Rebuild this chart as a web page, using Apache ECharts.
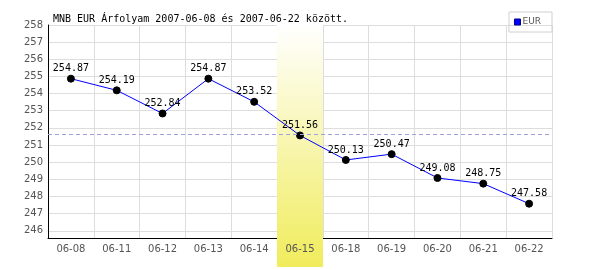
<!DOCTYPE html>
<html><head><meta charset="utf-8">
<script src="https://cdn.jsdelivr.net/npm/echarts@6/dist/echarts.min.js"></script>
<style>html,body{margin:0;padding:0;background:#fff}#c{width:600px;height:270px}</style>
</head><body><div id="c"></div>
<script>
const titleText = 'MNB EUR Árfolyam 2007-06-08 és 2007-06-22 között.';
const categories = ['06-08','06-11','06-12','06-13','06-14','06-15','06-18','06-19','06-20','06-21','06-22'];
const eurValues = [254.87,254.19,252.84,254.87,253.52,251.56,250.13,250.47,249.08,248.75,247.58];
const highlightCategory = '06-15';
const yMin = 245.58, yMax = 258;

const chart = echarts.init(document.getElementById('c'), null, {renderer:'canvas'});
const mono = 'DejaVu Sans Mono';
chart.setOption({
  animation:false,
  backgroundColor:'#fff',
  title:{text:titleText,left:48,top:9,textStyle:{fontFamily:mono,fontSize:10,fontWeight:'normal',color:'#000'}},
  legend:{data:[{name:'EUR',itemStyle:{color:'#0000ff',borderColor:'#000080',borderWidth:1}}],
    right:48,top:12,orient:'horizontal',icon:'rect',itemWidth:6,itemHeight:6,
    padding:[5,11,5,5],borderColor:'#d0d0d0',borderWidth:1,
    textStyle:{fontFamily:'DejaVu Sans',fontSize:9,lineHeight:10,color:'#555',padding:[0,0,0,-3]}},
  grid:{left:48,right:48,top:25,bottom:32,containLabel:false},
  xAxis:[{type:'category',data:categories,boundaryGap:true,z:0,
    axisLine:{lineStyle:{color:'#000',width:1}},axisTick:{show:false},
    axisLabel:{show:false},
    splitLine:{show:true,interval:0,lineStyle:{color:'#dddddd',width:1}}},
    {type:'category',data:categories,boundaryGap:true,position:'bottom',z:5,
    axisLine:{show:false},axisTick:{show:false},splitLine:{show:false},
    axisLabel:{fontFamily:'DejaVu Sans',fontSize:10,color:'#555',margin:6,interval:0}}],
  yAxis:{type:'value',min:yMin,max:yMax,splitNumber:12,
    axisLine:{show:true,lineStyle:{color:'#000',width:1}},axisTick:{show:false},
    axisLabel:{fontFamily:'DejaVu Sans',fontSize:10,color:'#555',margin:5,showMinLabel:false,
      formatter:v=>Number.isInteger(Math.round(v*100)/100)?String(Math.round(v)):''},
    splitLine:{show:true,lineStyle:{color:'#dddddd',width:1}}},
  series:[
    {name:'avg',type:'line',data:eurValues,z:1,symbol:'none',silent:true,
      lineStyle:{opacity:0},
      markLine:{silent:true,symbol:'none',label:{show:false},
        lineStyle:{type:[4,3],color:'#a0a0dd',width:1},data:[{type:'average'}]}},
    {name:'EUR',type:'line',data:eurValues,z:3,
      lineStyle:{color:'#0000ff',width:1},itemStyle:{color:'#000',borderColor:'#000'},
      symbol:'circle',symbolSize:7,emphasis:{disabled:true},
      label:{show:true,position:'top',distance:1,fontFamily:mono,fontSize:10,color:'#000',
        formatter:p=>p.value.toFixed(2)}}
  ]
});
const idx = categories.indexOf(highlightCategory);
const cx = chart.convertToPixel({xAxisIndex:0}, highlightCategory);
const cx2 = chart.convertToPixel({xAxisIndex:0}, categories[idx+1]);
const bw = cx2 - cx;
const topY = chart.convertToPixel({yAxisIndex:0}, yMax);
chart.setOption({
  graphic:[{type:'rect',z:2,silent:true,
    shape:{x:Math.round(cx-bw/2),y:topY,width:Math.round(bw),height:267-topY},
    style:{fill:new echarts.graphic.LinearGradient(0,0,0,1,[{offset:0,color:'#ffffff'},{offset:1,color:'#f0ec5c'}])}}]
});
</script></body></html>
